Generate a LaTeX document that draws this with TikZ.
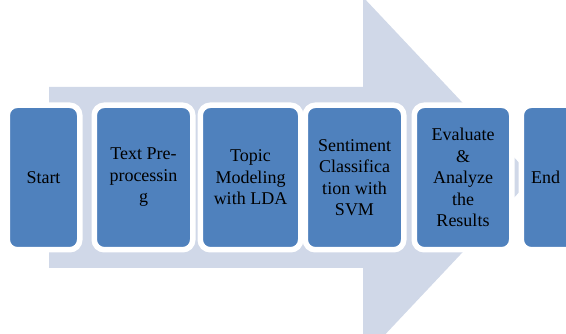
\documentclass[tikz,border=0pt]{standalone}
\usepackage{fontspec}
\setmainfont{Liberation Serif}
\definecolor{boxblue}{HTML}{4F81BD}
\definecolor{arrowgray}{HTML}{D0D8E8}
\begin{document}
\begin{tikzpicture}[x=1pt,y=-1pt,
  stepbox/.style={rectangle, rounded corners=10pt, fill=boxblue, draw=white,
    line width=5.5pt, minimum height=144.5pt, inner sep=2pt, align=center,
    font=\fontsize{18}{21.5}\selectfont, text=black}]
\useasboundingbox (0,0) rectangle (566,334);
\clip (0,0) rectangle (566,334);
\fill[arrowgray] (49,87) -- (363,87) -- (363,-3) -- (533,177.5) -- (363,358) -- (363,268) -- (49,268) -- cycle;
\node[stepbox, minimum width=72.5pt] (start) at (43.5,177.5) {Start};
\node[stepbox, minimum width=98.5pt] (pre) at (143.5,177.5) {Text Pre-\\processin\\g};
\node[stepbox, minimum width=100.5pt] (lda) at (250.5,177.5) {Topic\\Modeling\\with LDA};
\node[stepbox, minimum width=98.5pt] (svm) at (354.5,177.5) {Sentiment\\Classifica\\tion with\\SVM};
\node[stepbox, minimum width=97.5pt] (eval) at (463,177.5) {Evaluate\\\&\\Analyze\\the\\Results};
\node[stepbox, minimum width=98.5pt, text width=28pt, align=left] (end) at (570.5,177.5) {};
\node[font=\fontsize{18}{21.5}\selectfont, anchor=west, inner sep=0pt] (endtext) at (531,177.5) {End};
\end{tikzpicture}
\end{document}
